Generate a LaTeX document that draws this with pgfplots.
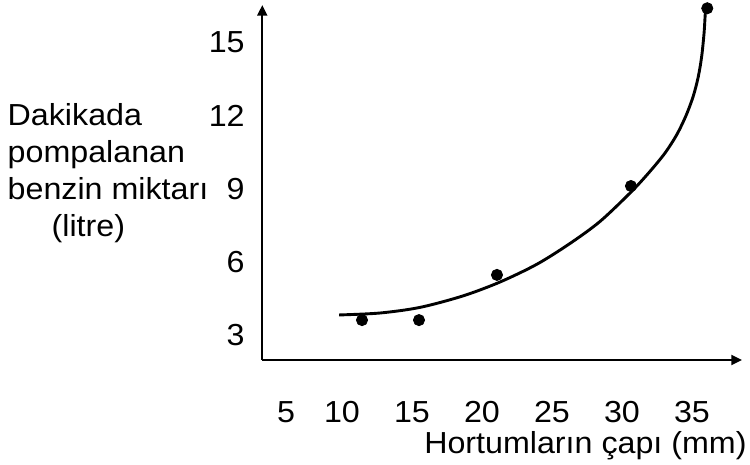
\documentclass[border=0pt]{standalone}
\usepackage{pgfplots}
\pgfplotsset{compat=1.18}
\usepackage{fontspec}
\setmainfont{Liberation Sans}[FakeStretch=1.06]
\usetikzlibrary{arrows.meta}

\newcommand{\chartfont}{\fontsize{15.2pt}{18.5pt}\selectfont}

\begin{document}
\begin{tikzpicture}
	\path[use as bounding box] (-131.15pt,-52.5pt) rectangle (243.85pt,180pt);
	\begin{axis}[
			at={(0,0)}, anchor=south west,
			x=7pt, y=12.21pt,
			xmin=4.307, xmax=38.57,
			ymin=1.976, ymax=16.51,
			axis lines=left,
			axis line style={line width=1pt, -{Triangle[length=5.3pt,width=5pt]}},
			tick style={draw=none},
			xtick={6,10,15,20,25,30,35},
			xticklabels={5,10,15,20,25,30,35},
			ytick={3,6,9,12,15},
			yticklabels={3,6,9,12,15},
			xticklabel style={font=\chartfont, inner sep=0pt, anchor=base, yshift=-29.15pt},
			yticklabel style={font=\chartfont, inner sep=0pt, anchor=base east, xshift=-6.5pt, yshift=-5.4pt},
			xlabel={Hortumların çapı (mm)},
			xlabel style={font=\chartfont, inner sep=0pt, at={(rel axis cs:1,0)}, anchor=base east, xshift=2.5pt, yshift=-46.65pt},
			ylabel={Dakikada\\pompalanan\\benzin miktarı\\\hspace*{22pt}(litre)},
			every axis y label/.style={font=\chartfont, inner sep=0pt, align=left, at={(rel axis cs:0,0)}, anchor=north west, xshift=-127.5pt, yshift=128.35pt},
			clip=false,
		]
		% fitted curve
		\addplot[black, line width=1.45pt, smooth, mark=none] coordinates {
				(9.79,3.82) (12.71,3.90) (15.57,4.13) (18.64,4.60) (21.29,5.17)
				(23.93,5.90) (26.29,6.75) (28.43,7.65) (30.69,8.88) (32.0,9.70)
				(33.07,10.45) (33.91,11.20) (34.57,11.98) (35.09,12.78) (35.45,13.58)
				(35.69,14.40) (35.86,15.35) (35.95,16.17) (36.0,16.35)
			};
		% measured points
		\addplot[only marks, mark=*, mark size=2.8pt, black] coordinates {
				(11.43,3.61) (15.5,3.61) (21.07,5.46) (30.64,9.10) (36.09,16.38)
			};
	\end{axis}
\end{tikzpicture}
\end{document}
